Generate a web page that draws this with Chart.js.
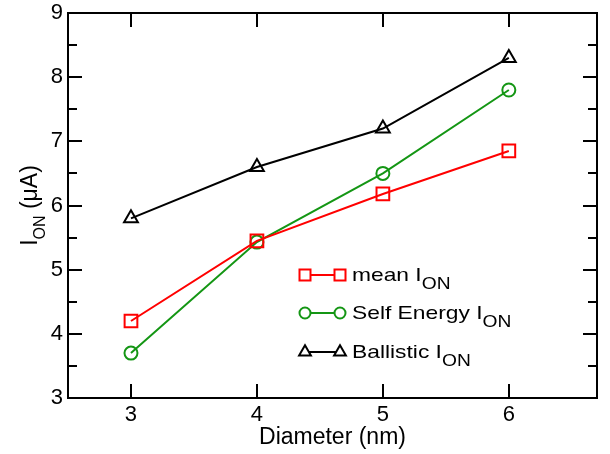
<!DOCTYPE html>
<html><head><meta charset="utf-8">
<script src="https://cdn.jsdelivr.net/npm/chart.js@4"></script>
<style>html,body{margin:0;padding:0;background:#fff}#wrap{width:610px;height:454px;position:relative}</style>
</head><body><div id="wrap"><canvas id="c" width="610" height="454"></canvas></div>
<script>
const diameters = [3, 4, 5, 6];
const meanIon = [4.2, 5.45, 6.18, 6.85];
const selfEnergyIon = [3.7, 5.43, 6.5, 7.8];
const ballisticIon = [5.8, 6.6, 7.2, 8.3];
const xTicks = [3, 4, 5, 6];
const yTicks = [3, 4, 5, 6, 7, 8, 9];
const yMinorTicks = [3.5, 4.5, 5.5, 6.5, 7.5, 8.5];
const seriesNames = ['mean', 'Self Energy', 'Ballistic'];
const xTitle = 'Diameter (nm)';

const FONT = '"Liberation Sans", Arial, Helvetica, sans-serif';
const RED = '#ff0000', GREEN = '#149614', BLACK = '#000000';

function pts(ys){ return diameters.map((x,i)=>({x, y: ys[i]})); }

const datasets = [
  {label: seriesNames[0], data: pts(meanIon), borderColor: RED, pointStyle: 'rect', pointRadius: 9, pointBorderColor: RED},
  {label: seriesNames[1], data: pts(selfEnergyIon), borderColor: GREEN, pointStyle: 'circle', pointRadius: 6.5, pointBorderColor: GREEN},
  {label: seriesNames[2], data: pts(ballisticIon), borderColor: BLACK, pointStyle: 'triangle', pointRadius: 8, pointBorderColor: BLACK}
].map(d => Object.assign({borderWidth: 2, pointBorderWidth: 2, pointBackgroundColor: 'rgba(0,0,0,0)', tension: 0, fill: false}, d));

function drawSub(ctx, x, y, main, sub, big, small, off){
  ctx.font = big + 'px ' + FONT;
  ctx.fillText(main, x, y);
  let w = ctx.measureText(main).width;
  ctx.font = small + 'px ' + FONT;
  ctx.fillText(sub, x + w, y + off);
  return w + ctx.measureText(sub).width;
}

function marker(ctx, style, x, y, color, s){
  ctx.save();
  ctx.strokeStyle = color; ctx.lineWidth = 2;
  ctx.beginPath();
  if (style === 'rect') { ctx.rect(x-s/2, y-s/2, s, s); }
  else if (style === 'circle') { ctx.arc(x, y, s/2, 0, Math.PI*2); }
  else { const r = s*0.62; ctx.moveTo(x, y - r); ctx.lineTo(x + r*0.866, y + r*0.5); ctx.lineTo(x - r*0.866, y + r*0.5); ctx.closePath(); }
  ctx.fillStyle = '#fff'; ctx.fill();
  ctx.stroke();
  ctx.restore();
}

const framePlugin = {
  id: 'frame',
  afterDatasetsDraw(chart){
    const {ctx, chartArea: a, scales: {x, y}} = chart;
    ctx.save();
    ctx.strokeStyle = '#000'; ctx.lineWidth = 2;
    ctx.strokeRect(a.left, a.top, a.right - a.left, a.bottom - a.top);
    ctx.beginPath();
    xTicks.forEach(v => { const px = Math.round(x.getPixelForValue(v));
      ctx.moveTo(px, a.bottom); ctx.lineTo(px, a.bottom - 14);
      ctx.moveTo(px, a.top); ctx.lineTo(px, a.top + 14); });
    yTicks.forEach(v => { const py = Math.round(y.getPixelForValue(v));
      ctx.moveTo(a.left, py); ctx.lineTo(a.left + 14, py);
      ctx.moveTo(a.right, py); ctx.lineTo(a.right - 14, py); });
    yMinorTicks.forEach(v => { const py = Math.round(y.getPixelForValue(v));
      ctx.moveTo(a.left, py); ctx.lineTo(a.left + 9, py);
      ctx.moveTo(a.right, py); ctx.lineTo(a.right - 9, py); });
    ctx.stroke();

    // legend
    const lx1 = 305, lx2 = 340, tx = 352;
    const rows = [275, 313, 352];
    const styles = ['rect','circle','triangle'];
    const colors = [RED, GREEN, BLACK];
    ctx.textBaseline = 'alphabetic'; ctx.textAlign = 'left';
    rows.forEach((ry, i) => {
      ctx.strokeStyle = colors[i]; ctx.lineWidth = 2;
      ctx.beginPath(); ctx.moveTo(lx1, ry); ctx.lineTo(lx2, ry); ctx.stroke();
      marker(ctx, styles[i], lx1, ry, colors[i], 11);
      marker(ctx, styles[i], lx2, ry, colors[i], 11);
      ctx.fillStyle = '#000';
      ctx.save();
      ctx.translate(tx, ry + 6);
      ctx.scale(1.2, 1);
      drawSub(ctx, 0, 0, seriesNames[i] + ' I', 'ON', 19, 16, 8);
      ctx.restore();
    });

    // axis titles
    ctx.fillStyle = '#000';
    ctx.textAlign = 'center';
    ctx.font = '23px ' + FONT;
    ctx.fillText(xTitle, (a.left + a.right)/2, 444);

    ctx.save();
    ctx.translate(37, (a.top + a.bottom)/2);
    ctx.rotate(-Math.PI/2);
    ctx.textAlign = 'left';
    ctx.font = '23px ' + FONT;
    const w1 = ctx.measureText('I').width;
    ctx.font = '16px ' + FONT;
    const w2 = ctx.measureText('ON').width;
    ctx.font = '23px ' + FONT;
    const w3 = ctx.measureText(' (\u03bcA)').width;
    let sx = -(w1 + w2 + w3)/2;
    const wsub = drawSub(ctx, sx, 0, 'I', 'ON', 23, 16, 8);
    ctx.font = '23px ' + FONT;
    ctx.fillText(' (\u03bcA)', sx + wsub, 0);
    ctx.restore();
    ctx.restore();
  }
};

new Chart(document.getElementById('c'), {
  type: 'line',
  data: { datasets },
  options: {
    responsive: false, animation: false,
    layout: { padding: { left: 0, top: 13, right: 13, bottom: 0 } },
    plugins: { legend: { display: false }, tooltip: { enabled: false } },
    scales: {
      x: { type: 'linear', min: 2.5, max: 6.7,
        afterBuildTicks(s){ s.ticks = xTicks.map(v => ({value: v})); },
        afterFit(s){ s.height = 56; s.paddingLeft = 0; s.paddingRight = 0; },
        grid: { display: false, drawTicks: false }, border: { display: false },
        ticks: { color: '#000', font: { family: FONT, size: 22 }, padding: 4, maxRotation: 0 } },
      y: { type: 'linear', min: 3, max: 9,
        afterBuildTicks(s){ s.ticks = yTicks.map(v => ({value: v})); },
        afterFit(s){ s.width = 68; s.paddingTop = 0; s.paddingBottom = 0; },
        grid: { display: false, drawTicks: false }, border: { display: false },
        ticks: { color: '#000', font: { family: FONT, size: 22 }, padding: 5 } }
    }
  },
  plugins: [framePlugin]
});
</script></body></html>
